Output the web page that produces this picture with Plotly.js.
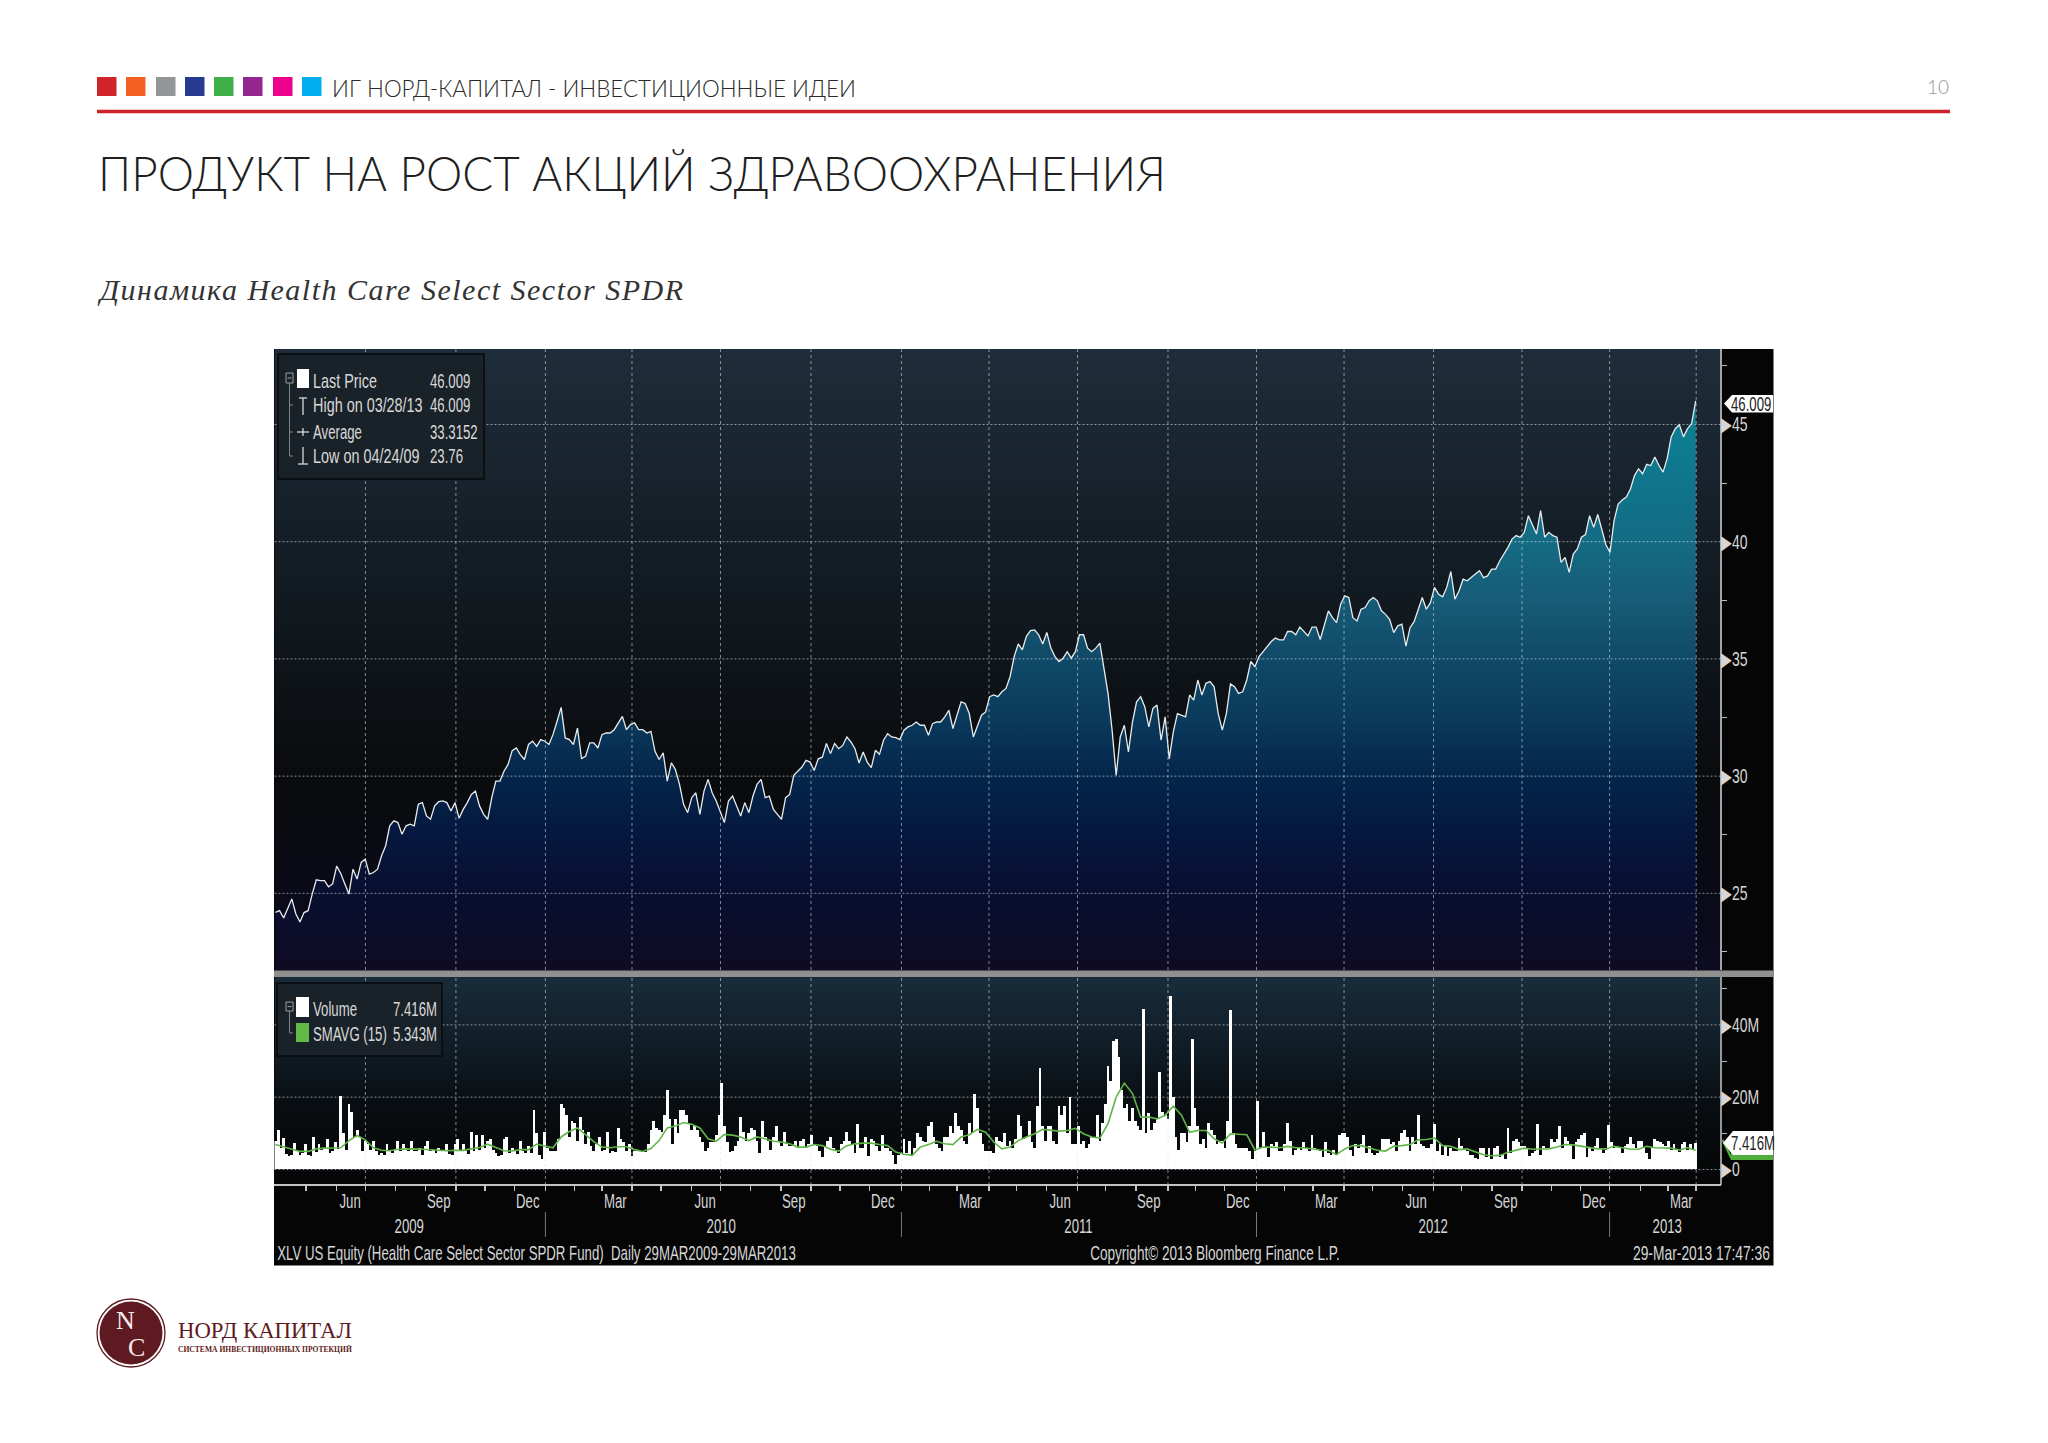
<!DOCTYPE html>
<html><head><meta charset="utf-8">
<script src="https://cdn.plot.ly/plotly-3.0.1.min.js"></script>
<style>html,body{margin:0;padding:0;background:#fff}#c{width:2048px;height:1443px}</style>
</head><body><div id="c"></div>
<script>
// ---- data ----
var firstDay = '2009-03-30';
var lastDay = '2013-03-29';
var price = [
24.19,24.26,23.95,24.33,24.76,24.12,23.78,24.18,24.26,24.97,
25.58,25.54,25.54,25.28,25.40,26.16,25.85,25.40,24.97,26.03,
25.61,26.32,26.46,25.82,25.89,26.03,26.60,27.03,27.88,28.09,
28.02,27.52,27.88,27.95,27.88,28.80,28.87,28.30,28.16,28.73,
28.91,28.94,28.87,28.51,28.87,28.20,28.58,28.87,29.22,29.36,
28.73,28.37,28.16,29.08,29.79,29.79,30.21,30.50,31.09,31.20,
30.92,30.71,31.35,31.49,31.27,31.56,31.49,31.35,31.77,32.34,
32.93,31.63,31.56,31.35,32.05,30.75,30.85,31.42,31.42,31.20,
31.77,31.84,31.84,31.98,32.27,32.55,31.98,32.20,32.27,31.98,
31.98,31.84,31.91,31.06,30.71,30.99,29.79,30.57,30.28,29.65,
28.80,28.44,29.08,29.29,28.37,29.36,29.86,29.29,28.94,28.44,
28.02,28.94,29.15,28.73,28.30,28.87,28.44,29.15,29.65,29.86,
29.08,29.15,28.58,28.37,28.16,29.08,29.22,
30.03,30.21,30.39,30.67,30.60,30.24,30.74,30.81,31.39,30.96,
31.39,31.17,31.31,31.67,31.46,31.17,30.56,31.03,30.60,30.36,
31.10,30.93,31.53,31.81,31.67,31.64,31.56,31.96,32.10,32.17,
32.31,32.17,32.17,31.74,32.24,32.31,32.31,32.53,32.81,32.03,
32.60,33.17,33.10,32.67,31.67,32.10,32.60,32.74,33.39,33.46,
33.39,33.60,33.74,34.24,35.10,35.64,35.39,35.96,36.21,36.24,
36.03,35.64,36.13,35.46,35.10,34.89,35.03,35.31,35.03,35.31,
36.03,36.03,35.46,35.31,35.46,35.67,34.53,33.53,31.96,30.03,
31.67,32.17,31.03,32.31,33.17,33.39,32.96,32.10,32.89,33.03,
31.53,32.53,30.74,31.89,32.67,32.60,32.53,33.46,33.24,34.10,
33.46,33.96,34.03,33.81,32.67,31.96,32.67,33.93,33.81,33.53,
33.60,34.10,34.89,34.67,35.10,35.31,35.53,35.74,35.89,35.81,
35.81,36.17,36.17,36.03,
36.36,36.19,35.98,36.36,36.36,35.83,36.43,37.05,36.76,36.55,
37.33,37.69,37.62,36.76,36.62,37.12,37.19,37.48,37.62,37.48,
37.05,36.90,36.69,36.12,36.41,36.48,35.55,36.33,36.59,37.12,
37.62,37.12,37.40,38.05,37.76,37.65,38.05,38.73,37.55,37.90,
38.40,38.33,38.47,38.62,38.76,38.47,38.54,38.83,38.83,39.19,
39.47,39.76,40.11,40.26,40.19,40.40,41.11,40.68,40.33,41.33,
40.19,40.40,40.26,40.19,39.12,39.33,38.69,39.47,39.69,40.19,
40.30,41.11,40.61,41.16,40.54,39.87,39.54,40.90,41.61,41.78,
41.90,42.25,42.82,43.11,42.90,43.30,43.25,43.61,43.25,42.97,
43.54,44.47,44.82,44.99,44.47,44.82,45.04,46.009];

var volume = [
8.0,11.0,6.0,8.7,4.2,3.6,4.0,7.3,5.0,4.0,4.5,7.0,4.0,3.8,9.0,4.8,7.0,5.5,6.0,8.5,
4.5,5.0,7.5,5.8,20.2,10,5.5,18,16,9,11,9,5,8,7,5.5,8,5,4,4.5,
3.9,7,5.2,4.5,5.5,8,5,7,6,5,7.8,5,5,6,4,6.5,8,5.2,5.5,4.5,
6,5,5,7,4.2,4,7,8.5,5.5,7,5,4.2,10.5,5,9.5,5.5,9.5,6,8,8.5,
5.5,4.5,3.8,4,8.5,9,4.5,6,5,4.2,7.8,5,4.5,6.5,4.5,16.5,10,4,3,10.5,
6,5,5,5,8.5,18,17,15,9,13.5,13,8,14.5,11,7,10.5,6.5,5.2,7,9,
5,5.5,10.5,4.5,5,4.8,11.5,8.5,7.5,5.2,7,3.7,5,5,5,5,4.8,7,11,13.5,
11.5,11,10.5,15,22,14,7,14,10,16.5,16.5,15,12.5,11,12,11,9,7.5,5.2,6,
7.5,7.5,9.5,15,23.8,12,7.5,4.8,5,6.5,8,14.5,10.5,8,10,11.5,11,8,4.6,13.5,
9,8,5.5,
9,12,8,6.5,10.5,7,6.5,6.5,8,6,8,8.5,6,7,9.5,7,6.5,5,3.5,6.5,
8,9,6,5,4.5,7,8,10.5,8,7,4.5,12.5,6,6,9,3.8,8.5,8,6.5,5,
9.5,6,6,5,4,1.5,4,4.5,8.5,4.5,8,3.7,6,10,9,8,7.5,12,13.2,9,
7,6,5,9,9,12,10,15.5,12,11,8,7,13,10,21,17,10,7,5,5.2,
5,4.6,9,8,7.5,10,6.5,8,6,8.5,15,12,8.5,9,13.5,7.5,6,17.5,28,12,
8,12,12,8,7,17.5,15,17.5,10,20,7,7,12,7,8,6,7,9,9,15,
8,13,18,28.5,24.5,35.5,36,31,22,17,18,13.5,17,13.5,12,11,44.5,10,15.5,11,
13,14,27,16,15,14,48,20,9,5.5,10,10,7.5,12,36,17,12,7,8.5,6,
13,11,9.5,7,8,8,6,13.5,44,10,7,6,6,6,6,5,3,5,19,6,
10.5,6,3.5,
7,6.5,7.5,5,5,7,13,8,4,5.5,6,5.5,7.5,6,5,9.5,6,5.5,5,3.5,
7.5,4.5,4,5.5,4,9.5,10,10,9,5.5,3.8,7,6,7,9.5,4.5,6.5,4.5,4,4.5,
5.5,8.5,8.5,8.5,7,7.5,5,8,10,11,9,5,9,7,15.2,7,6.5,6,6,7,
12.5,5,7,4,6.5,3.8,6,5,5,8.7,6.5,5.5,5,4,4,3.2,3,6,6,3.5,
6,3,6,6.5,3.5,4,3,11.5,4.5,8,8.5,7.5,6.5,6.5,6,3.8,4.5,5,12.5,4,
6.5,6,6,8.5,7.5,8.5,12,6,9,8,7,3,7.5,8.5,9.5,10,3.5,6,5,6.5,
8.8,6,4.5,5.5,12.3,7.5,6,6.5,6,4.5,6.5,7,9,7,6,8,8,6,4.5,2.8,
6,8.5,8,7.5,7,6.5,8,5.5,7,5.5,4.8,7,7.5,5.5,7,5.5,7.416];

var sma = [
6.9,6.3,5.6,5.0,5.0,5.7,5.9,5.9,6.0,8.0,9.4,8.2,6.0,5.3,5.2,5.6,5.7,5.7,5.6,5.4,
5.3,5.2,5.3,5.3,5.7,6.1,7.0,6.0,5.2,5.1,5.5,5.5,7.0,6.5,6.0,9.0,10.5,11.5,9.5,7.7,
6.2,6.0,6.3,6.3,5.5,5.0,5.8,8.0,11.5,12,13,12.5,11.5,8.5,7.8,9.7,9.5,9.0,8,9,8.5,
7.8,7.6,7.1,6.2,6.2,6.9,6.6,5.6,5.1,6.6,7.1,7.3,7.3,6.9,6.6,4.8,4.2,3.9,6.2,6.9,
7.8,7.1,6.9,9.0,9.6,11.1,10.3,7.6,5.7,6.2,8.0,9.0,9.9,11.1,10.8,10.6,10.8,11.4,9.9,9.0,
8.7,12.7,20,23.9,21,14.5,14.5,14,15,17.5,15,10.3,10.8,10.8,8.5,7.3,9.9,9.7,9.6,5.4,6.2,
6.2,6,6.4,6,6,5.6,5.4,5.3,4.1,5.7,6.6,6.6,6,5.3,5.1,6.4,6.6,6.9,8.2,8.3,
8.7,6.6,6.4,5.5,5.7,4.8,4.1,3.8,3.9,4.8,5.4,5.9,5.6,5.7,5.7,6.2,6.9,6.8,6.5,6,
5.7,5.7,6.4,6,5.6,5.6,6.4,6,6,5.9,5.4,6,5.343];

var gridDates = ['2009-07-01','2009-10-02','2010-01-02','2010-04-01','2010-07-01','2010-10-02','2011-01-03','2011-04-03','2011-07-03','2011-10-04','2012-01-03','2012-04-02','2012-07-03','2012-10-02','2012-12-31','2013-03-30'];
var yearBreaks = ['2010-01-02','2011-01-03','2012-01-03','2012-12-31'];
var monthLabels = ['Jun','Sep','Dec','Mar','Jun','Sep','Dec','Mar','Jun','Sep','Dec','Mar','Jun','Sep','Dec','Mar'];
var monthLabelDates = ['2009-06-15','2009-09-15','2009-12-15','2010-03-15','2010-06-15','2010-09-15','2010-12-15','2011-03-15','2011-06-15','2011-09-15','2011-12-15','2012-03-15','2012-06-15','2012-09-15','2012-12-15','2013-03-15'];
var yearLabels = ['2009','2010','2011','2012','2013'];
var yearLabelDates = ['2009-08-15','2010-07-02','2011-07-04','2012-07-03','2013-02-28'];
var priceTicks = [25,30,35,40,45];
var priceMinorTicks = [22.5,27.5,32.5,37.5,42.5,47.5];
var volTicks = [0,20,40];
var volMinorTicks = [10,30,50];
var squares = ['#d2232a','#f26122','#939598','#263b8f','#3fae49','#92278f','#ec008c','#00aeef'];

var W=2048,H=1443;
var NARROW='"Liberation Sans",sans-serif';
var HEAD='"Lato","Noto Sans",sans-serif';
var SERIF='"Liberation Serif",serif';
function px(x){return x/W} function py(y){return 1-y/H}
// the readings were taken at equal distances along the axis
function evenDates(n){
  var a=new Date(firstDay+'T12:00:00Z').getTime(),b=new Date(lastDay+'T12:00:00Z').getTime(),out=[];
  for(var i=0;i<n;i++){out.push(new Date(a+(b-a)*i/(n-1)).toISOString().slice(0,19).replace('T',' '));}
  return out;
}
var XRANGE=['2009-03-29 12:00','2013-04-24'];
var PR=[21.73,48.22], VR=[-4.29,53.25];

var shapes=[],ann=[];
function R(x0,y0,x1,y1,fill,line,layer){shapes.push({type:'rect',xref:'paper',yref:'paper',x0:px(x0),x1:px(x1),y0:py(y0),y1:py(y1),fillcolor:fill,line:line||{width:0},layer:layer||'above'});}
function L(x0,y0,x1,y1,c,w,dash){shapes.push({type:'line',xref:'paper',yref:'paper',x0:px(x0),x1:px(x1),y0:py(y0),y1:py(y1),line:{color:c,width:w||1,dash:dash||'solid'},layer:'above'});}
function P(pts,fill){var d=pts.map(function(p,i){return (i?'L':'M')+px(p[0])+','+py(p[1]);}).join(' ')+' Z';shapes.push({type:'path',xref:'paper',yref:'paper',path:d,fillcolor:fill,line:{width:0},layer:'above'});}
function T(text,x,y,size,color,anchor,family,extra){var a={text:text,xref:'paper',yref:'paper',x:px(x),y:py(y),xanchor:anchor||'left',yanchor:'middle',showarrow:false,font:{size:size,color:color,family:family||NARROW},borderpad:0};if(extra){for(var k in extra){if(k==='style'||k==='weight')a.font[k]=extra[k];else a[k]=extra[k];}}ann.push(a);}

// page furniture
squares.forEach(function(c,i){var x=[97,126,156,185,214,243,273,302][i];R(x,77,x+19.5,96,c);});
L(97,111.5,1950,111.5,'#cc2229',3.5);
T('ИГ НОРД-КАПИТАЛ - ИНВЕСТИЦИОННЫЕ ИДЕИ',331,88,24,'#2a2a2a','left',HEAD,{weight:300});
T('10',1950,87,19,'#999999','right',HEAD,{weight:300});
T('ПРОДУКТ НА РОСТ АКЦИЙ ЗДРАВООХРАНЕНИЯ',97,173,48,'#1f1f1f','left',HEAD,{weight:300});
T('Динамика Health Care Select Sector SPDR',96,289,30,'#333','left',SERIF,{style:'italic'});

// chart box
R(274,349,1773.5,1265.5,'#050505',null,'below');
// grid
gridDates.forEach(function(d){
  shapes.push({type:'line',xref:'x',yref:'paper',x0:d,x1:d,y0:py(970),y1:py(349),line:{color:'rgba(225,230,232,0.55)',width:1,dash:'3px,3px'},layer:'above'});
  shapes.push({type:'line',xref:'x',yref:'paper',x0:d,x1:d,y0:py(1185),y1:py(977),line:{color:'rgba(225,230,232,0.55)',width:1,dash:'3px,3px'},layer:'above'});
});
priceTicks.forEach(function(v){shapes.push({type:'line',xref:'paper',yref:'y',x0:px(274.5),x1:px(1720.5),y0:v,y1:v,line:{color:'rgba(225,230,232,0.6)',width:1,dash:'2px,2px'},layer:'above'});});
volTicks.forEach(function(v){shapes.push({type:'line',xref:'paper',yref:'y2',x0:px(274.5),x1:px(1720.5),y0:v,y1:v,line:{color:'rgba(225,230,232,0.6)',width:1,dash:'2px,2px'},layer:'above'});});
// separator and axis lines
R(274,970.5,1773.5,977,'#8f9190');
L(1721,349,1721,970,'#d8d8d8',1.5);
L(1721,977,1721,1185,'#c8c8c8',1.5);
L(274,1185,1721,1185,'#c4c4c4',2.2);
yearBreaks.forEach(function(d){shapes.push({type:'line',xref:'x',yref:'paper',x0:d,x1:d,y0:py(1212),y1:py(1237),line:{color:'#777',width:1},layer:'above'});});

// x labels and footer
monthLabels.forEach(function(t,i){ann.push({text:t,xref:'x',yref:'paper',x:monthLabelDates[i],y:py(1201),xanchor:'center',yanchor:'middle',showarrow:false,font:{size:20,color:'#d6d6d6',family:NARROW}});});
yearLabels.forEach(function(t,i){ann.push({text:t,xref:'x',yref:'paper',x:yearLabelDates[i],y:py(1226),xanchor:'center',yanchor:'middle',showarrow:false,font:{size:20,color:'#d6d6d6',family:NARROW}});});
T('XLV US Equity (Health Care Select Sector SPDR Fund)  Daily 29MAR2009-29MAR2013',276,1253,20,'#d6d6d6');
T('Copyright© 2013 Bloomberg Finance L.P.',1089,1253,20,'#d6d6d6');
T('29-Mar-2013 17:47:36',1771,1253,20,'#d6d6d6','right');

// price legend
var boxLine={color:'#07090b',width:1.5};
R(278,354,484,479,'#1a2229',boxLine);
R(286,373,293,383,'rgba(0,0,0,0)',{color:'#9aa0a4',width:1});
L(287.5,378,291.5,378,'#9aa0a4',1);
L(289.5,383,289.5,456,'#7d8488',1);
[405,432,456].forEach(function(y){L(289.5,y,293,y,'#7d8488',1);});
R(297,369,309,388,'#ffffff');
L(303,398,303,415,'#d8d8d8',1.3);L(299,398,307,398,'#d8d8d8',1.3);
L(297,432,309,432,'#d8d8d8',1.3);L(303,428,303,436,'#d8d8d8',1.3);
L(303,447,303,464,'#d8d8d8',1.3);L(298,464,308,464,'#d8d8d8',1.3);
[['Last Price','46.009',381],['High on 03/28/13','46.009',405],['Average','33.3152',432],['Low on 04/24/09','23.76',456]].forEach(function(r){
  T(r[0],312,r[2],20,'#d8d8d8');T(r[1],428.5,r[2],20,'#d8d8d8');
});
// volume legend
R(277,983,442,1056,'#1a2229',boxLine);
R(286,1002,293,1011,'rgba(0,0,0,0)',{color:'#9aa0a4',width:1});
L(287.5,1006.5,291.5,1006.5,'#9aa0a4',1);
L(289.5,1011,289.5,1033,'#7d8488',1);L(289.5,1033,293,1033,'#7d8488',1);
R(296,997,309,1017,'#ffffff');
R(296,1023,309,1042,'#63b946');
T('Volume',312,1009,20,'#d8d8d8');T('7.416M',392,1009,20,'#d8d8d8');
T('SMAVG (15)',312,1034,20,'#d8d8d8');T('5.343M',392,1034,20,'#d8d8d8');

// callouts
P([[1724,403.5],[1732,395],[1773,395],[1773,412.5],[1732,412.5]],'#ffffff');
T('46.009',1730,404,20,'#222');
L(1722.7,1140,1731.7,1159,'#4fae3c',2.2);
R(1731,1152,1773,1160,'#4fae3c');
P([[1723,1143],[1733,1131],[1773,1131],[1773,1155],[1733,1155]],'#ffffff');
T('7.416M',1730,1143,20,'#222');

// logo
shapes.push({type:'circle',xref:'paper',yref:'paper',x0:px(97),x1:px(165),y0:py(1367),y1:py(1299),fillcolor:'#ffffff',line:{color:'#5e1a20',width:1.3},layer:'above'});
shapes.push({type:'circle',xref:'paper',yref:'paper',x0:px(99.5),x1:px(162.5),y0:py(1364.5),y1:py(1301.5),fillcolor:'#5e1a20',line:{width:0},layer:'above'});
T('N',115,1320,26,'#f5ecec','left',SERIF);
T('C',127,1347,26,'#f5ecec','left',SERIF);
T('НОРД КАПИТАЛ',177,1330,24,'#5e1a20','left',SERIF,{weight:500});
T('СИСТЕМА ИНВЕСТИЦИОННЫХ ПРОТЕКЦИЙ',177,1349,8.7,'#5e1a20','left',SERIF,{weight:700});

// text widths measured on the picture; everything else set in the narrow terminal face
var textWidths={
 'ИГ НОРД-КАПИТАЛ - ИНВЕСТИЦИОННЫЕ ИДЕИ':524,
 'ПРОДУКТ НА РОСТ АКЦИЙ ЗДРАВООХРАНЕНИЯ':1068,
 'НОРД КАПИТАЛ':174,
 'СИСТЕМА ИНВЕСТИЦИОННЫХ ПРОТЕКЦИЙ':174,
 'XLV US Equity (Health Care Select Sector SPDR Fund)  Daily 29MAR2009-29MAR2013':519,
 'Copyright© 2013 Bloomberg Finance L.P.':250,
 '29-Mar-2013 17:47:36':137
};
var SPACED='Динамика Health Care Select Sector SPDR', SPACED_W=583;
var NARROW_FACTOR=0.66;
var narrowOverride={'Last Price':0.72,'High on 03/28/13':0.72,'Low on 04/24/09':0.72};

// background gradients
function bgRows(r){var n=24,ys=[],z=[];for(var i=0;i<=n;i++){ys.push(r[0]+(r[1]-r[0])*i/n);z.push([i/n,i/n]);}return {y:ys,z:z};}
var bgP=bgRows(PR),bgV=bgRows(VR);
var priceDates=evenDates(price.length);
var volDates=evenDates(volume.length);
var smaDates=evenDates(sma.length);
var barDays=(new Date(lastDay)-new Date(firstDay))/(volume.length-1);

var traces=[
 {type:'heatmap',x:XRANGE,y:bgP.y,z:bgP.z,xaxis:'x',yaxis:'y',zsmooth:'best',showscale:false,hoverinfo:'skip',zmin:0,zmax:1,
  colorscale:[[0,'#0d0b22'],[0.15,'#0a0a16'],[0.3,'#0a0b0d'],[0.55,'#10171d'],[0.8,'#18232d'],[1,'#1f2d3a']]},
 {type:'scatter',mode:'lines',name:'Last Price',x:priceDates,y:price,xaxis:'x',yaxis:'y',line:{color:'#e6ecee',width:1.3},fill:'tozeroy',
  fillgradient:{type:'vertical',start:21.73,stop:46.1,colorscale:[[0,'#0f0b24'],[0.135,'#090f30'],[0.24,'#05183f'],[0.34,'#05264b'],[0.44,'#0a3a5c'],[0.545,'#104a68'],[0.65,'#175c78'],[0.75,'#146b84'],[0.955,'#0b7f93'],[1,'#0a8496']]}},
 {type:'heatmap',x:XRANGE,y:bgV.y,z:bgV.z,xaxis:'x2',yaxis:'y2',zsmooth:'best',showscale:false,hoverinfo:'skip',zmin:0,zmax:1,
  colorscale:[[0,'#050506'],[0.4,'#090e12'],[0.65,'#101c25'],[1,'#182c3a']]},
 {type:'bar',name:'Volume',x:volDates,y:volume,xaxis:'x2',yaxis:'y2',width:barDays*1.04,marker:{color:'#ffffff',line:{width:0}}},
 {type:'scatter',mode:'lines',name:'SMAVG (15)',x:smaDates,y:sma,xaxis:'x2',yaxis:'y2',line:{color:'#5fb548',width:1.6}}
];
var axisFont={size:20,color:'#d6d6d6',family:NARROW};
function months(){var out=[];for(var y=2009;y<=2013;y++){for(var m=1;m<=12;m++){if((m-1)%3==0)continue;var s=y+'-'+(m<10?'0':'')+m+'-01';if(s>'2009-03-31'&&s<'2013-03-31')out.push(s);}}return out;}
var layout={
 width:W,height:H,autosize:false,margin:{l:0,r:0,t:0,b:0},paper_bgcolor:'#ffffff',plot_bgcolor:'rgba(0,0,0,0)',showlegend:false,bargap:0,
 xaxis:{type:'date',domain:[px(274.5),px(1720.5)],range:XRANGE,anchor:'y',showgrid:false,showticklabels:false,ticks:'',zeroline:false,showline:false},
 yaxis:{domain:[py(970),py(349)],range:PR,side:'right',anchor:'x',showgrid:false,zeroline:false,showline:false,tickmode:'array',tickvals:priceTicks,ticktext:priceTicks.map(function(v){return '▶'+v;}),ticks:'',tickfont:axisFont,
   minor:{tickmode:'array',tickvals:priceMinorTicks,ticks:'outside',ticklen:5,tickcolor:'#bfbfbf',tickwidth:1,showgrid:false}},
 xaxis2:{type:'date',domain:[px(274.5),px(1720.5)],range:XRANGE,anchor:'y2',matches:'x',showgrid:false,showticklabels:false,zeroline:false,showline:false,
   tickmode:'array',tickvals:gridDates,ticks:'outside',ticklen:5,tickcolor:'#c4c4c4',tickwidth:1.4,
   minor:{tickmode:'array',tickvals:months(),ticks:'outside',ticklen:5,tickcolor:'#c4c4c4',tickwidth:1.4,showgrid:false}},
 yaxis2:{domain:[py(1185),py(977)],range:VR,side:'right',anchor:'x2',showgrid:false,zeroline:false,showline:false,tickmode:'array',tickvals:volTicks,ticktext:volTicks.map(function(v){return '▶'+(v?v+'M':'0');}),ticks:'',tickfont:axisFont,
   minor:{tickmode:'array',tickvals:volMinorTicks,ticks:'outside',ticklen:5,tickcolor:'#bfbfbf',tickwidth:1,showgrid:false}},
 shapes:shapes,annotations:ann
};
// squeeze a text horizontally to a given width, keeping its anchored edge in place
function squeeze(el,width,xanchor){
  var b=el.getBBox(),s=width/b.width,pivot=b.x;
  if(xanchor==='right')pivot=b.x+b.width;
  if(xanchor==='center')pivot=b.x+b.width/2;
  el.setAttribute('transform','translate('+pivot+' 0) scale('+s+' 1) translate('+(-pivot)+' 0)');
}
function spaceOut(el,width){
  var b0=el.getBBox();
  el.setAttribute('textLength',width);
  el.setAttribute('lengthAdjust','spacing');
  var b1=el.getBBox();
  el.setAttribute('x',(parseFloat(el.getAttribute('x'))||0)+(b0.x-b1.x));
}
Plotly.newPlot('c',traces,layout,{displayModeBar:false,staticPlot:true}).then(function(){
  document.querySelectorAll('.annotation').forEach(function(g){
    var a=ann[+g.getAttribute('data-index')],el=g.querySelector('.annotation-text');
    if(!a||!el)return;
    var t=a.text;
    if(t===SPACED){spaceOut(el,SPACED_W);return;}
    if(textWidths[t]){squeeze(el,textWidths[t],a.xanchor);return;}
    if(a.font.family===NARROW){squeeze(el,el.getBBox().width*(narrowOverride[t]||NARROW_FACTOR),a.xanchor);}
  });
  document.querySelectorAll('.ytick text,.y2tick text').forEach(function(el){
    var b=el.getBBox(),pivot=b.x,s=NARROW_FACTOR+0.04,old=el.getAttribute('transform')||'';
    el.setAttribute('transform',old+' translate('+pivot+' 0) scale('+s+' 1) translate('+(-pivot)+' 0)');
  });
});
</script></body></html>
